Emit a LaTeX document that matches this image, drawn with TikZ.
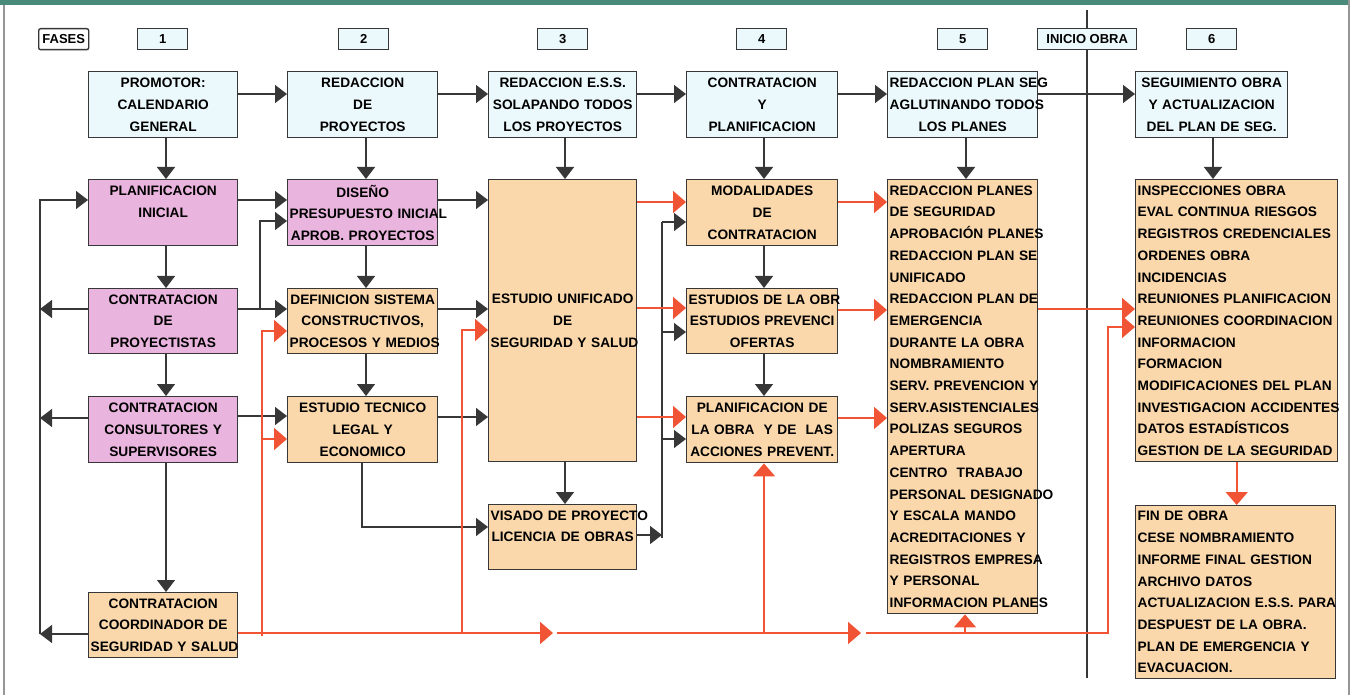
\documentclass[tikz,border=0pt]{standalone}
\usepackage{fontspec}
\setmainfont{Liberation Sans}
\usetikzlibrary{arrows.meta}
\definecolor{cyanf}{RGB}{236,249,252}
\definecolor{pinkf}{RGB}{233,180,222}
\definecolor{orangef}{RGB}{250,216,172}
\definecolor{redl}{RGB}{240,84,52}
\definecolor{darkl}{RGB}{55,55,55}
\definecolor{bandc}{RGB}{74,138,122}
\definecolor{framec}{RGB}{150,150,150}
\newcommand\mb[1]{\mbox{#1}}
\begin{document}
\begin{tikzpicture}[x=1pt,y=-1pt,
  box/.style={draw=darkl, line width=1.4pt, inner sep=2pt,
    font=\fontsize{13.7}{21.7}\selectfont\bfseries, align=center, anchor=north west},
  lst/.style={box, align=left},
  wd/.style={minimum width=#1pt, text width=#1pt-4pt},
  ht/.style={minimum height=#1pt},
  cy/.style={fill=cyanf},
  pk/.style={fill=pinkf},
  og/.style={fill=orangef},
  phase/.style={draw=darkl, line width=1.4pt, fill=cyanf, inner sep=0pt,
    minimum height=21pt, anchor=north west, font=\fontsize{13}{15}\selectfont\bfseries},
  darr/.style={draw=darkl, line width=1.3pt, -{Triangle[length=12pt,width=18pt]}},
  dline/.style={draw=darkl, line width=1.3pt},
  rarr/.style={draw=redl, line width=1.8pt, -{Triangle[length=13pt,width=22pt]}},
  rline/.style={draw=redl, line width=1.8pt},
]
\useasboundingbox (0,0) rectangle (1358,695);
% frame
\fill[bandc] (0,0) rectangle (1350,5);
\draw[framec, line width=1.2pt] (4,5) -- (4,695);
\draw[framec, line width=1.5pt] (1349,0) -- (1349,695);
% divider
\draw[dline] (1087,10) -- (1087,678);

% phases
\node[phase, fill=white, rounded corners=2pt, minimum width=50pt] (fases) at (38,28) {FASES};
\node[phase, minimum width=50pt] (f1) at (137,28) {1};
\node[phase, minimum width=50pt] (f2) at (338,28) {2};
\node[phase, minimum width=50pt] (f3) at (537,28) {3};
\node[phase, minimum width=50pt] (f4) at (736,28) {4};
\node[phase, minimum width=50pt] (f5) at (937,28) {5};
\node[phase, minimum width=99pt] (inicio) at (1037,28) {INICIO OBRA};
\node[phase, minimum width=50pt] (f6) at (1186,28) {6};

% top row
\node[box, cy, wd=149, ht=66] (t1) at (88,71) {\mb{PROMOTOR:}\\\mb{CALENDARIO}\\\mb{GENERAL}};
\node[box, cy, wd=150, ht=66] (t2) at (287,71) {\mb{REDACCION}\\\mb{DE}\\\mb{PROYECTOS}};
\node[box, cy, wd=148, ht=66] (t3) at (488,71) {\mb{REDACCION E.S.S.}\\\mb{SOLAPANDO TODOS}\\\mb{LOS PROYECTOS}};
\node[box, cy, wd=151, ht=66] (t4) at (686,71) {\mb{CONTRATACION}\\\mb{Y}\\\mb{PLANIFICACION}};
\node[box, cy, wd=150, ht=66] (t5) at (887,71) {\mb{REDACCION PLAN SEG}\\\mb{AGLUTINANDO TODOS}\\\mb{LOS PLANES}};
\node[box, cy, wd=152, ht=66] (t6) at (1135,71) {\mb{SEGUIMIENTO OBRA}\\\mb{Y ACTUALIZACION}\\\mb{DEL PLAN DE SEG.}};

% column 1
\node[box, pk, wd=149, ht=66] (p1) at (88,179) {\mb{PLANIFICACION}\\\mb{INICIAL}\\\mbox{}};
\node[box, pk, wd=149, ht=65] (p2) at (88,288) {\mb{CONTRATACION}\\\mb{DE}\\\mb{PROYECTISTAS}};
\node[box, pk, wd=149, ht=66] (p3) at (88,396) {\mb{CONTRATACION}\\\mb{CONSULTORES Y}\\\mb{SUPERVISORES}};
\node[box, og, wd=149, ht=65] (cc) at (88,592) {\mb{CONTRATACION}\\\mb{COORDINADOR DE}\\\mb{SEGURIDAD Y SALUD}};

% column 2
\node[box, pk, wd=150, ht=66] (d2) at (287,179) {\mb{DISE\~NO}\\\mb{PRESUPUESTO INICIAL}\\\mb{APROB. PROYECTOS}};
\node[box, og, wd=150, ht=65] (def) at (287,288) {\mb{DEFINICION SISTEMA}\\\mb{CONSTRUCTIVOS,}\\\mb{PROCESOS Y MEDIOS}};
\node[box, og, wd=150, ht=66] (et) at (287,396) {\mb{ESTUDIO TECNICO}\\\mb{LEGAL Y}\\\mb{ECONOMICO}};

% column 3
\node[box, og, wd=148, ht=282] (eu) at (488,179) {\mb{ESTUDIO UNIFICADO}\\\mb{DE}\\\mb{SEGURIDAD Y SALUD}};
\node[box, og, wd=148, ht=65] (vis) at (488,504) {\mb{VISADO DE PROYECTO}\\\mb{LICENCIA DE OBRAS}\\\mbox{}};

% column 4
\node[box, og, wd=151, ht=66] (mod) at (686,179) {\mb{MODALIDADES}\\\mb{DE}\\\mb{CONTRATACION}};
\node[box, og, wd=151, ht=65] (est) at (686,288) {\mb{ESTUDIOS DE LA OBR}\\\mb{ESTUDIOS PREVENCI}\\\mb{OFERTAS}};
\node[box, og, wd=151, ht=66] (plo) at (686,396) {\mb{PLANIFICACION DE}\\\mb{LA OBRA \ Y DE \ LAS}\\\mb{ACCIONES PREVENT.}};

% column 5
\node[lst, og, wd=150, ht=434] (rp) at (887,179) {\mb{REDACCION PLANES}\\\mb{DE SEGURIDAD}\\\mb{APROBACI\'ON PLANES}\\\mb{REDACCION PLAN SE}\\\mb{UNIFICADO}\\\mb{REDACCION PLAN DE}\\\mb{EMERGENCIA}\\\mb{DURANTE LA OBRA}\\\mb{NOMBRAMIENTO}\\\mb{SERV. PREVENCION Y}\\\mb{SERV.ASISTENCIALES}\\\mb{POLIZAS SEGUROS}\\\mb{APERTURA}\\\mb{CENTRO \ TRABAJO}\\\mb{PERSONAL DESIGNADO}\\\mb{Y ESCALA MANDO}\\\mb{ACREDITACIONES Y}\\\mb{REGISTROS EMPRESA}\\\mb{Y PERSONAL}\\\mb{INFORMACION PLANES}};

% column 6
\node[lst, og, wd=202, ht=282] (ins) at (1135,179) {\mb{INSPECCIONES OBRA}\\\mb{EVAL CONTINUA RIESGOS}\\\mb{REGISTROS CREDENCIALES}\\\mb{ORDENES OBRA}\\\mb{INCIDENCIAS}\\\mb{REUNIONES PLANIFICACION}\\\mb{REUNIONES COORDINACION}\\\mb{INFORMACION}\\\mb{FORMACION}\\\mb{MODIFICACIONES DEL PLAN}\\\mb{INVESTIGACION ACCIDENTES}\\\mb{DATOS ESTAD\'ISTICOS}\\\mb{GESTION DE LA SEGURIDAD}};
\node[lst, og, wd=200, ht=173] (fin) at (1135,505) {\mb{FIN DE OBRA}\\\mb{CESE NOMBRAMIENTO}\\\mb{INFORME FINAL GESTION}\\\mb{ARCHIVO DATOS}\\\mb{ACTUALIZACION E.S.S. PARA}\\\mb{DESPUEST DE LA OBRA.}\\\mb{PLAN DE EMERGENCIA Y}\\\mb{EVACUACION.}};

% ---- dark connectors ----
\draw[darr] (t1.east |- 0,94) -- (t2.west |- 0,94);
\draw[darr] (t2.east |- 0,94) -- (t3.west |- 0,94);
\draw[darr] (t3.east |- 0,94) -- (t4.west |- 0,94);
\draw[darr] (t4.east |- 0,94) -- (t5.west |- 0,94);
\draw[darr] (t5.east |- 0,94) -- (t6.west |- 0,94);

\draw[darr] (t1.south -| 166,0) -- (p1.north -| 166,0);
\draw[darr] (p1.south -| 166,0) -- (p2.north -| 166,0);
\draw[darr] (p2.south -| 166,0) -- (p3.north -| 166,0);
\draw[darr] (p3.south -| 166,0) -- (cc.north -| 166,0);
\draw[darr] (t2.south -| 366,0) -- (d2.north -| 366,0);
\draw[darr] (d2.south -| 366,0) -- (def.north -| 366,0);
\draw[darr] (def.south -| 366,0) -- (et.north -| 366,0);
\draw[darr] (t3.south -| 565,0) -- (eu.north -| 565,0);
\draw[darr] (eu.south -| 565,0) -- (vis.north -| 565,0);
\draw[darr] (t4.south -| 764,0) -- (mod.north -| 764,0);
\draw[darr] (mod.south -| 764,0) -- (est.north -| 764,0);
\draw[darr] (est.south -| 764,0) -- (plo.north -| 764,0);
\draw[darr] (t5.south -| 966,0) -- (rp.north -| 966,0);
\draw[darr] (t6.south -| 1213,0) -- (ins.north -| 1213,0);

\draw[darr] (p1.east |- 0,200) -- (d2.west |- 0,200);
\draw[darr] (p2.east |- 0,309) -- (def.west |- 0,309);
\coordinate (j1) at (260,309);
\draw[darr] (j1) |- (d2.west |- 0,221);
\draw[darr] (p3.east |- 0,416) -- (et.west |- 0,416);
\draw[darr] (d2.east |- 0,200) -- (eu.west |- 0,200);
\draw[darr] (def.east |- 0,309) -- (eu.west |- 0,309);
\draw[darr] (et.east |- 0,417) -- (eu.west |- 0,417);

% left feedback bus
\coordinate (lb0) at (40,200);
\coordinate (lb1) at (40,634);
\draw[darr] (p2.west |- 0,309) -- (lb0 |- 0,309);
\draw[darr] (p3.west |- 0,418) -- (lb0 |- 0,418);
\draw[darr] (cc.west |- 0,634) -- (lb1);
\draw[darr] (lb1) -- (lb0) -- (p1.west |- 0,200);

% estudio tecnico -> visado
\draw[darr] (et.south -| 362,0) |- (vis.west |- 0,527);
% visado bus
\coordinate (vb0) at (662,535);
\coordinate (vb1) at (662,222);
\draw[darr] (vis.east |- 0,535) -- (vb0);
\draw[dline] (662,538) -- (vb1);
\draw[darr] (vb1) -- (mod.west |- 0,222);
\draw[darr] (vb0 |- 0,332) -- (est.west |- 0,332);
\draw[darr] (vb0 |- 0,439) -- (plo.west |- 0,439);

% ---- red connectors ----
\draw[rarr] (eu.east |- 0,202) -- (mod.west |- 0,202);
\draw[rarr] (eu.east |- 0,308) -- (est.west |- 0,308);
\draw[rarr] (eu.east |- 0,417) -- (plo.west |- 0,417);
\draw[rarr] (mod.east |- 0,202) -- (rp.west |- 0,202);
\draw[rarr] (est.east |- 0,310) -- (rp.west |- 0,310);
\draw[rarr] (plo.east |- 0,418) -- (rp.west |- 0,418);
\draw[rarr] (rp.east |- 0,309) -- (ins.west |- 0,309);
\draw[rarr] (ins.south) -- (ins.south |- fin.north);

% bottom red bus
\coordinate (r0) at (cc.east |- 0,633);
\coordinate (rm1) at (553,633);
\coordinate (rm1b) at (557,633);
\coordinate (rm2) at (861,633);
\coordinate (rm2b) at (866,633);
\coordinate (rc) at (1108,327);
\draw[rarr] (r0) -- (rm1);
\draw[rarr] (rm1b) -- (rm2);
\draw[rarr] (rm2b) -| (rc) -- (ins.west |- 0,327);
\coordinate (rb1) at (262,636);
\draw[rarr] (rb1) |- (def.west |- 0,331);
\draw[rarr] (rb1 |- 0,439) -- (et.west |- 0,439);
\coordinate (rb2) at (462,633);
\draw[rarr] (rb2) |- (eu.west |- 0,330);
\coordinate (rb3) at (764,633);
\draw[rarr] (rb3) -- (rb3 |- plo.south);
\coordinate (rb4) at (965,633);
\draw[rarr] (rb4) -- (rb4 |- rp.south);
\end{tikzpicture}
\end{document}
